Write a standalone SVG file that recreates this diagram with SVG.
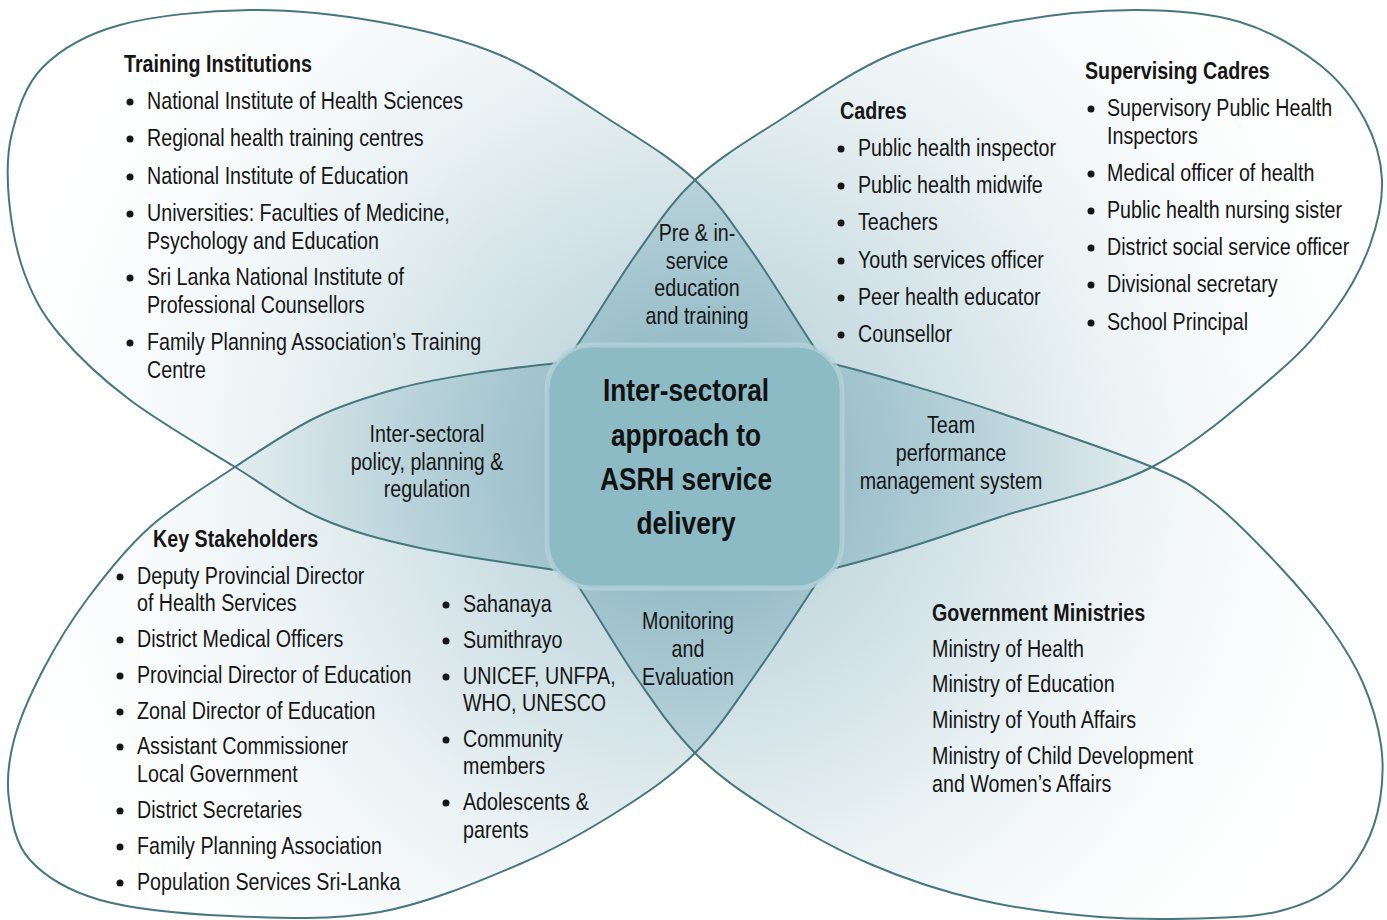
<svg xmlns="http://www.w3.org/2000/svg" width="1387" height="920" viewBox="0 0 1387 920">
<style>
.t{font-family:"Liberation Sans Narrow","Arial Narrow","Liberation Sans",Arial,sans-serif;font-size:24px;fill:#151515}
.h{font-weight:bold}
.m{text-anchor:middle}
.title{font-family:"Liberation Sans Narrow","Arial Narrow","Liberation Sans",Arial,sans-serif;font-size:32px;font-weight:bold;fill:#111;text-anchor:middle}
.fill{fill:url(#pg);stroke:none}
.edge{fill:none;stroke:#46767e;stroke-width:2}
.b{fill:#151515}
</style>
<defs>
<radialGradient id="pg" gradientUnits="userSpaceOnUse" cx="695" cy="466" r="720">
<stop offset="0" stop-color="#5a96a8" stop-opacity="0.5"/>
<stop offset="0.2" stop-color="#5a96a8" stop-opacity="0.37"/>
<stop offset="0.4" stop-color="#5a96a8" stop-opacity="0.24"/>
<stop offset="0.6" stop-color="#5a96a8" stop-opacity="0.11"/>
<stop offset="0.8" stop-color="#5a96a8" stop-opacity="0.03"/>
<stop offset="1" stop-color="#5a96a8" stop-opacity="0"/>
</radialGradient>
<path id="pTL" d="M823,360 C805.2,335.5 774.3,283 753,253 C731.7,223 718.8,202.2 695,180 C671.2,157.8 642.5,140.8 610,120 C577.5,99.2 538.3,71.3 500,55 C461.7,38.7 421.7,29.5 380,22 C338.3,14.5 293.3,9.5 250,10 C206.7,10.5 154.5,15.5 120,25 C85.5,34.5 61,49 43,67 C25,85 17.7,110.8 12,133 C6.3,155.2 6.8,176.3 9,200 C11.2,223.7 16.5,252.5 25,275 C33.5,297.5 42.5,314.2 60,335 C77.5,355.8 100.8,378 130,400 C159.2,422 203.3,447.3 235,467 C266.7,486.7 289.2,504.5 320,518 C350.8,531.5 379.5,539.2 420,548 C460.5,556.8 529.7,566 563,571 L640,580 L760,470 Z"/>
<path id="pTR" d="M567,360 C584.8,335.5 615.7,283 637,253 C658.3,223 671.2,202.2 695,180 C718.8,157.8 747.5,140.8 780,120 C812.5,99.2 851.7,71.3 890,55 C928.3,38.7 969.2,29.5 1010,22 C1050.8,14.5 1096.7,10 1135,10 C1173.3,10 1209.2,12.8 1240,22 C1270.8,31.2 1299.2,48.7 1320,65 C1340.8,81.3 1354.7,100.8 1365,120 C1375.3,139.2 1381.2,159.2 1382,180 C1382.8,200.8 1377.8,223.3 1370,245 C1362.2,266.7 1350.8,288.3 1335,310 C1319.2,331.7 1305.5,348.8 1275,375 C1244.5,401.2 1197.8,443.3 1152,467 C1106.2,490.7 1040.3,503.7 1000,517 C959.7,530.3 938.8,538.2 910,547 C881.2,555.8 850.3,564.5 827,570 L760,580 L640,470 Z"/>
<path id="pBL" d="M563,362 C543.5,365.3 510.2,367.7 483,372 C455.8,376.3 427.7,380.5 400,388 C372.3,395.5 344.5,403.8 317,417 C289.5,430.2 262.8,448.7 235,467 C207.2,485.3 174.5,505.2 150,527 C125.5,548.8 105.8,574.2 88,598 C70.2,621.8 55.3,646.3 43,670 C30.7,693.7 19.7,718.3 14,740 C8.3,761.7 6.3,780 9,800 C11.7,820 14.8,843.3 30,860 C45.2,876.7 66.7,890.3 100,900 C133.3,909.3 183.3,914 230,916 C276.7,918 331.7,920.7 380,912 C428.3,903.3 480,881 520,864 C560,847 590.8,828.5 620,810 C649.2,791.5 672.5,775.5 695,753 C717.5,730.5 733.3,705.5 755,675 C776.7,644.5 809.2,594.2 825,570 L760,470 L640,400 Z"/>
<path id="pBR" d="M567,570 C584.7,592.8 614.7,646.5 636,677 C657.3,707.5 672.7,730.8 695,753 C717.3,775.2 740.8,791.5 770,810 C799.2,828.5 835,849 870,864 C905,879 941.7,891.2 980,900 C1018.3,908.8 1061.2,914 1100,917 C1138.8,920 1183,919 1213,918 C1243,917 1260.2,916 1280,911 C1299.8,906 1318,898.5 1332,888 C1346,877.5 1356,862.7 1364,848 C1372,833.3 1377.2,817.2 1380,800 C1382.8,782.8 1383.8,764.5 1381,745 C1378.2,725.5 1371.5,702.7 1363,683 C1354.5,663.3 1343.8,646.3 1330,627 C1316.2,607.7 1299.5,587.8 1280,567 C1260.5,546.2 1234.3,518.7 1213,502 C1191.7,485.3 1187.5,481.8 1152,467 C1116.5,452.2 1040.3,426.7 1000,413 C959.7,399.3 939.2,393.5 910,385 C880.8,376.5 845,366.2 825,362 L760,470 L640,560 Z"/>
</defs>
<rect width="1387" height="920" fill="#ffffff"/>
<g id="petal-fills">
<use href="#pTL" class="fill"/>
<use href="#pTR" class="fill"/>
<use href="#pBL" class="fill"/>
<use href="#pBR" class="fill"/>
</g>
<g id="connectors"></g>
<g id="training-institutions">
<use href="#pTL" class="edge"/>
<text class="t h" transform="translate(124,72) scale(0.82,1)">Training Institutions</text>
<circle class="b" cx="130" cy="102" r="3.5"/><text class="t" transform="translate(147,109) scale(0.82,1)">National Institute of Health Sciences</text>
<circle class="b" cx="130" cy="139" r="3.5"/><text class="t" transform="translate(147,146) scale(0.82,1)">Regional health training centres</text>
<circle class="b" cx="130" cy="177" r="3.5"/><text class="t" transform="translate(147,184) scale(0.82,1)">National Institute of Education</text>
<circle class="b" cx="130" cy="214" r="3.5"/><text class="t" transform="translate(147,221) scale(0.82,1)">Universities: Faculties of Medicine,</text>
<text class="t" transform="translate(147,249) scale(0.82,1)">Psychology and Education</text>
<circle class="b" cx="130" cy="278" r="3.5"/><text class="t" transform="translate(147,285) scale(0.82,1)">Sri Lanka National Institute of</text>
<text class="t" transform="translate(147,313) scale(0.82,1)">Professional Counsellors</text>
<circle class="b" cx="130" cy="343" r="3.5"/><text class="t" transform="translate(147,350) scale(0.82,1)">Family Planning Association’s Training</text>
<text class="t" transform="translate(147,378) scale(0.82,1)">Centre</text>
</g>
<g id="cadres">
<use href="#pTR" class="edge"/>
<text class="t h" transform="translate(840,119) scale(0.82,1)">Cadres</text>
<circle class="b" cx="841" cy="149" r="3.5"/><text class="t" transform="translate(858,156) scale(0.82,1)">Public health inspector</text>
<circle class="b" cx="841" cy="186" r="3.5"/><text class="t" transform="translate(858,193) scale(0.82,1)">Public health midwife</text>
<circle class="b" cx="841" cy="223" r="3.5"/><text class="t" transform="translate(858,230) scale(0.82,1)">Teachers</text>
<circle class="b" cx="841" cy="261" r="3.5"/><text class="t" transform="translate(858,268) scale(0.82,1)">Youth services officer</text>
<circle class="b" cx="841" cy="298" r="3.5"/><text class="t" transform="translate(858,305) scale(0.82,1)">Peer health educator</text>
<circle class="b" cx="841" cy="335" r="3.5"/><text class="t" transform="translate(858,342) scale(0.82,1)">Counsellor</text>
<text class="t h" transform="translate(1085,79) scale(0.82,1)">Supervising Cadres</text>
<circle class="b" cx="1091" cy="109" r="3.5"/><text class="t" transform="translate(1107,116) scale(0.82,1)">Supervisory Public Health</text>
<text class="t" transform="translate(1107,144) scale(0.82,1)">Inspectors</text>
<circle class="b" cx="1091" cy="174" r="3.5"/><text class="t" transform="translate(1107,181) scale(0.82,1)">Medical officer of health</text>
<circle class="b" cx="1091" cy="211" r="3.5"/><text class="t" transform="translate(1107,218) scale(0.82,1)">Public health nursing sister</text>
<circle class="b" cx="1091" cy="248" r="3.5"/><text class="t" transform="translate(1107,255) scale(0.82,1)">District social service officer</text>
<circle class="b" cx="1091" cy="285" r="3.5"/><text class="t" transform="translate(1107,292) scale(0.82,1)">Divisional secretary</text>
<circle class="b" cx="1091" cy="323" r="3.5"/><text class="t" transform="translate(1107,330) scale(0.82,1)">School Principal</text>
</g>
<g id="key-stakeholders">
<use href="#pBL" class="edge"/>
<text class="t h" transform="translate(153,547) scale(0.82,1)">Key Stakeholders</text>
<circle class="b" cx="120" cy="577" r="3.5"/><text class="t" transform="translate(137,584) scale(0.82,1)">Deputy Provincial Director</text>
<text class="t" transform="translate(137,611) scale(0.82,1)">of Health Services</text>
<circle class="b" cx="120" cy="640" r="3.5"/><text class="t" transform="translate(137,647) scale(0.82,1)">District Medical Officers</text>
<circle class="b" cx="120" cy="676" r="3.5"/><text class="t" transform="translate(137,683) scale(0.82,1)">Provincial Director of Education</text>
<circle class="b" cx="120" cy="712" r="3.5"/><text class="t" transform="translate(137,719) scale(0.82,1)">Zonal Director of Education</text>
<circle class="b" cx="120" cy="747" r="3.5"/><text class="t" transform="translate(137,754) scale(0.82,1)">Assistant Commissioner</text>
<text class="t" transform="translate(137,782) scale(0.82,1)">Local Government</text>
<circle class="b" cx="120" cy="811" r="3.5"/><text class="t" transform="translate(137,818) scale(0.82,1)">District Secretaries</text>
<circle class="b" cx="120" cy="847" r="3.5"/><text class="t" transform="translate(137,854) scale(0.82,1)">Family Planning Association</text>
<circle class="b" cx="120" cy="883" r="3.5"/><text class="t" transform="translate(137,890) scale(0.82,1)">Population Services Sri-Lanka</text>
<circle class="b" cx="446" cy="605" r="3.5"/><text class="t" transform="translate(463,612) scale(0.82,1)">Sahanaya</text>
<circle class="b" cx="446" cy="641" r="3.5"/><text class="t" transform="translate(463,648) scale(0.82,1)">Sumithrayo</text>
<circle class="b" cx="446" cy="677" r="3.5"/><text class="t" transform="translate(463,684) scale(0.82,1)">UNICEF, UNFPA,</text>
<text class="t" transform="translate(463,711) scale(0.82,1)">WHO, UNESCO</text>
<circle class="b" cx="446" cy="740" r="3.5"/><text class="t" transform="translate(463,747) scale(0.82,1)">Community</text>
<text class="t" transform="translate(463,774) scale(0.82,1)">members</text>
<circle class="b" cx="446" cy="803" r="3.5"/><text class="t" transform="translate(463,810) scale(0.82,1)">Adolescents &amp;</text>
<text class="t" transform="translate(463,838) scale(0.82,1)">parents</text>
</g>
<g id="government-ministries">
<use href="#pBR" class="edge"/>
<text class="t h" transform="translate(932,621) scale(0.82,1)">Government Ministries</text>
<text class="t" transform="translate(932,657) scale(0.82,1)">Ministry of Health</text>
<text class="t" transform="translate(932,692) scale(0.82,1)">Ministry of Education</text>
<text class="t" transform="translate(932,728) scale(0.82,1)">Ministry of Youth Affairs</text>
<text class="t" transform="translate(932,764) scale(0.82,1)">Ministry of Child Development</text>
<text class="t" transform="translate(932,792) scale(0.82,1)">and Women’s Affairs</text>
</g>
<g id="overlap-labels">
<text class="t m" transform="translate(697,241) scale(0.82,1)">Pre &amp; in-</text>
<text class="t m" transform="translate(697,269) scale(0.82,1)">service</text>
<text class="t m" transform="translate(697,296) scale(0.82,1)">education</text>
<text class="t m" transform="translate(697,324) scale(0.82,1)">and training</text>
<text class="t m" transform="translate(427,442) scale(0.82,1)">Inter-sectoral</text>
<text class="t m" transform="translate(427,470) scale(0.82,1)">policy, planning &amp;</text>
<text class="t m" transform="translate(427,497) scale(0.82,1)">regulation</text>
<text class="t m" transform="translate(951,433) scale(0.82,1)">Team</text>
<text class="t m" transform="translate(951,461) scale(0.82,1)">performance</text>
<text class="t m" transform="translate(951,489) scale(0.82,1)">management system</text>
<text class="t m" transform="translate(688,629) scale(0.82,1)">Monitoring</text>
<text class="t m" transform="translate(688,657) scale(0.82,1)">and</text>
<text class="t m" transform="translate(688,685) scale(0.82,1)">Evaluation</text>
</g>
<g id="center">
<rect x="547" y="345" width="295" height="243" rx="45" fill="#8cbac5" stroke="#b9d4db" stroke-width="5" stroke-opacity="0.7"/>
<text class="title" transform="translate(686,401) scale(0.82,1)">Inter-sectoral</text>
<text class="title" transform="translate(686,446) scale(0.82,1)">approach to</text>
<text class="title" transform="translate(686,490) scale(0.82,1)">ASRH service</text>
<text class="title" transform="translate(686,534) scale(0.82,1)">delivery</text>
</g>
</svg>
